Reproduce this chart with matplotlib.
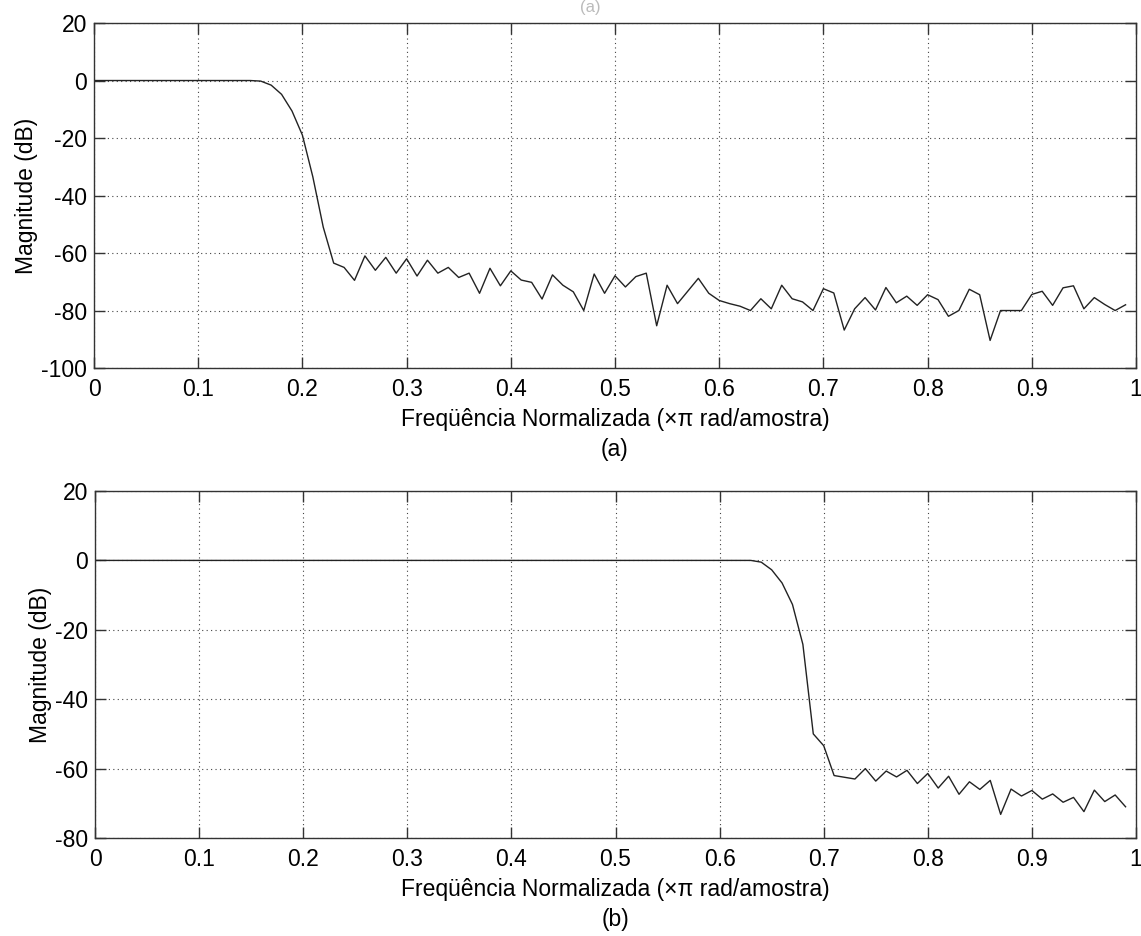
import matplotlib.pyplot as plt
import numpy as np

plt.rcParams["font.family"] = ["Liberation Sans", "DejaVu Sans"]
plt.rcParams["axes.unicode_minus"] = False

# Frequency grid (x pi rad/sample), 0 .. 0.99 step 0.01
freq = np.arange(100) / 100.0

# (a) low-pass response in dB
mag_a = [0.0] * 16 + [
    -0.2, -1.6, -4.8, -10.6, -19.0, -33.5, -51.0, -63.5, -65.0, -69.5,   # 0.16-0.25
    -61.0, -66.0, -61.5, -67.0, -62.0, -68.0, -62.5, -67.0, -65.0, -68.5,  # 0.26-0.35
    -67.0, -74.0, -65.3, -71.4, -66.2, -69.4, -70.2, -76.0, -67.6, -71.2,  # 0.36-0.45
    -73.5, -80.0, -67.3, -74.0, -67.9, -71.8, -68.2, -67.0, -85.3, -71.2,  # 0.46-0.55
    -77.6, -73.2, -68.8, -74.0, -76.5, -77.6, -78.5, -80.0, -75.9, -79.4,  # 0.56-0.65
    -71.2, -75.9, -77.0, -80.0, -72.4, -73.9, -86.8, -79.4, -75.5, -79.8,  # 0.66-0.75
    -72.0, -77.3, -75.0, -78.2, -74.5, -76.2, -82.0, -80.0, -72.6, -74.5,  # 0.76-0.85
    -90.4, -80.0, -80.0, -80.0, -74.4, -73.3, -78.2, -72.1, -71.4, -79.4,  # 0.86-0.95
    -75.5, -77.9, -80.0, -78.0,                                            # 0.96-0.99
]

# (b) response in dB
mag_b = [0.0] * 64 + [
    -0.5, -2.7, -6.5, -12.7, -24.2, -50.0, -53.4, -62.0, -62.5, -63.0,    # 0.64-0.73
    -60.0, -63.6, -60.7, -62.4, -60.5, -64.3, -61.4, -65.6, -62.2, -67.4,  # 0.74-0.83
    -63.8, -66.0, -63.4, -73.2, -65.9, -67.9, -66.3, -68.8, -67.3, -69.7,  # 0.84-0.93
    -68.3, -72.4, -66.2, -69.5, -67.6, -71.0,                              # 0.94-0.99
]

xticks = [0, 0.1, 0.2, 0.3, 0.4, 0.5, 0.6, 0.7, 0.8, 0.9, 1]
xticklabels = ["0", "0.1", "0.2", "0.3", "0.4", "0.5", "0.6", "0.7", "0.8", "0.9", "1"]
xlabel = "Freqüência Normalizada (\u00d7\u03c0 rad/amostra)"

fig = plt.figure(figsize=(11.41, 9.36), dpi=100)
ax_a = fig.add_axes([0.0824, 0.6068, 0.9132, 0.3686])
ax_b = fig.add_axes([0.0833, 0.1047, 0.9123, 0.3707])

panels = [
    (ax_a, mag_a, (-100, 20), np.arange(-100, 21, 20), "(a)"),
    (ax_b, mag_b, (-80, 20), np.arange(-80, 21, 20), "(b)"),
]

for ax, mag, ylim, yticks, tag in panels:
    ax.plot(freq, mag, color="#222222", linewidth=1.0)
    ax.set_xlim(0, 1)
    ax.set_ylim(*ylim)
    ax.set_xticks(xticks)
    ax.set_xticklabels(xticklabels)
    ax.set_yticks(yticks)
    ax.grid(True, color="#444444", linestyle=(0, (1, 3)), linewidth=0.8)
    ax.tick_params(direction="in", top=True, right=True, length=8, width=1,
                   labelsize=16.5, color="#333333")
    ax.tick_params(axis="x", pad=7)
    ax.tick_params(axis="y", pad=5)
    for s in ax.spines.values():
        s.set_color("#333333")
        s.set_linewidth(1.0)
    ax.set_ylabel("Magnitude (dB)", fontsize=16.5, labelpad=2)
    ax.set_xlabel(xlabel, fontsize=16.5, labelpad=5)
    ax.text(0.5, -81 / (ax.get_position().height * 936), tag, transform=ax.transAxes,
            fontsize=16.5, ha="center", va="center")

# clipped title remnant at very top
fig.text(0.517, 1.0, "(a)", fontsize=12, color="#bbbbbb", ha="center", va="top")

fig.savefig("out.png", dpi=100)
